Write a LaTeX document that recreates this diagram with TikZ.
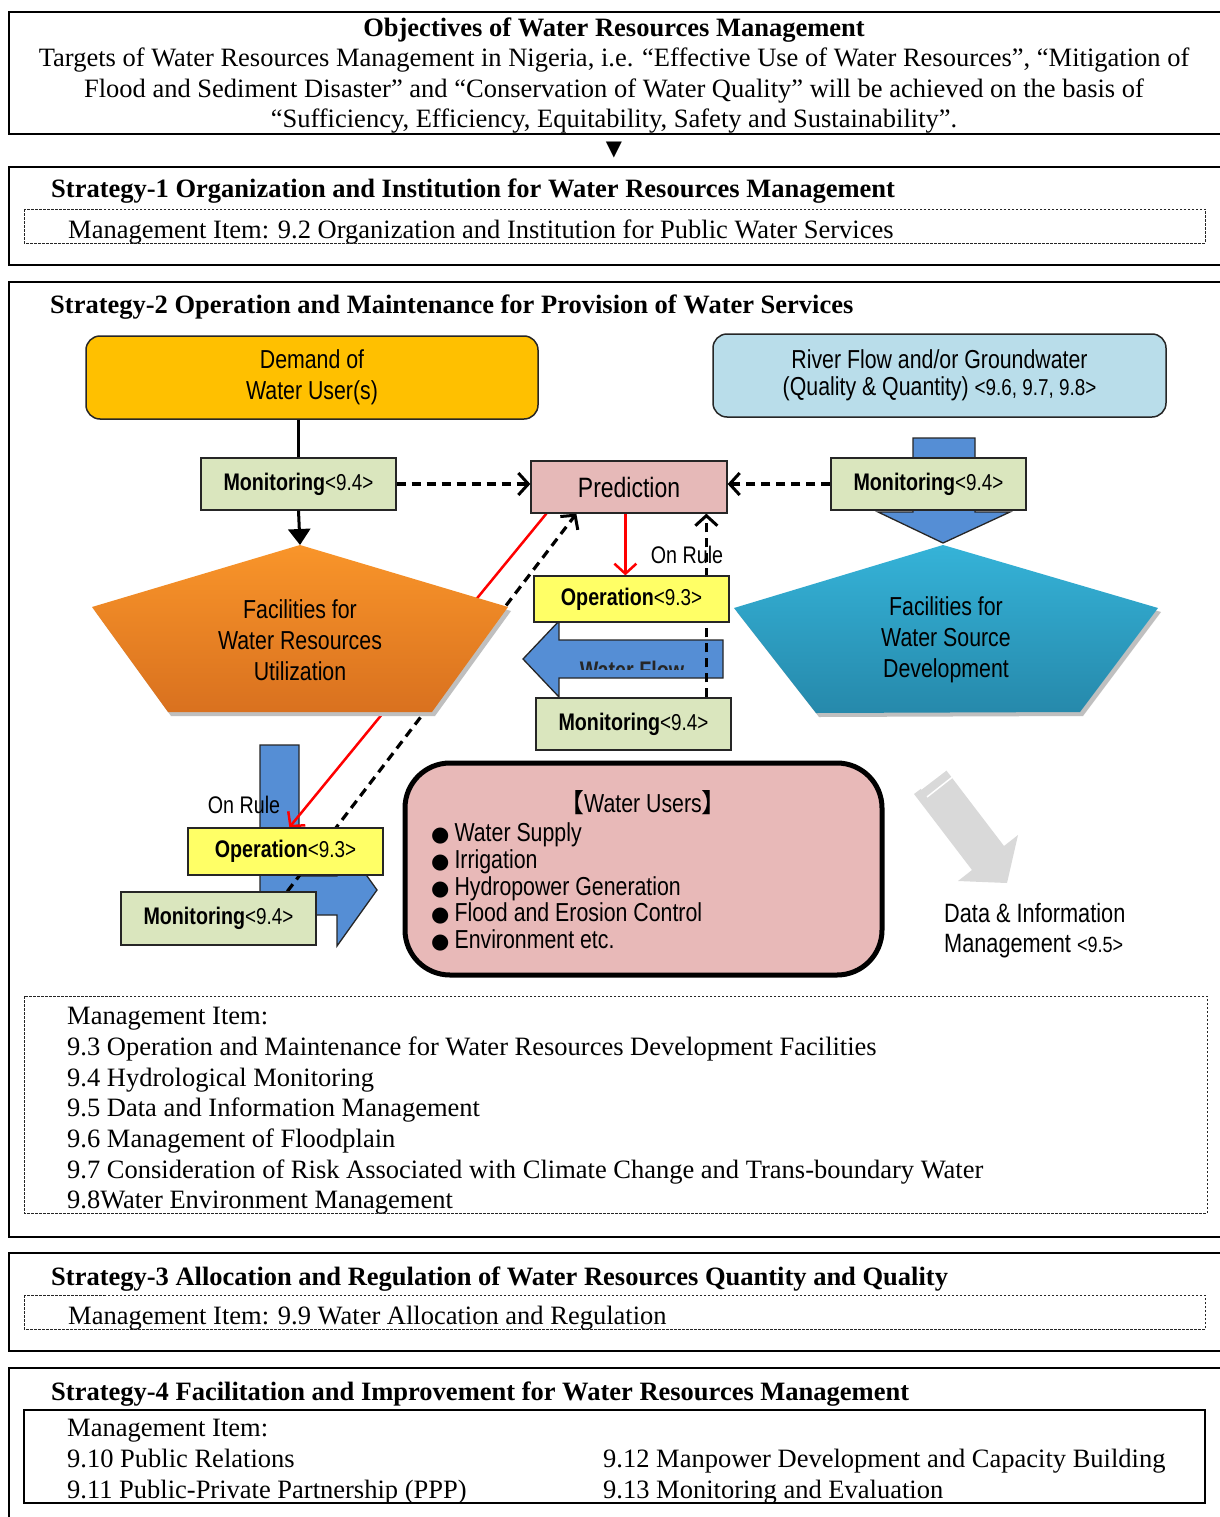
\documentclass[tikz,border=0pt]{standalone}
\usepackage{fontspec}
\setmainfont{Liberation Serif}
\newfontfamily\nar[FakeStretch=0.82]{Liberation Sans}
\newfontfamily\djv{DejaVu Sans}
\newfontfamily\cjk{Noto Sans CJK SC}
\usetikzlibrary{arrows.meta}
\definecolor{goldc}{HTML}{FFC000}
\definecolor{riverc}{HTML}{B9DDEA}
\definecolor{monc}{HTML}{DAE6BE}
\definecolor{predc}{HTML}{E6B9B8}
\definecolor{opc}{HTML}{FFFF66}
\definecolor{bluea}{HTML}{558ED5}
\definecolor{usersc}{HTML}{E8B9B8}
\definecolor{grayar}{HTML}{D9D9D9}
\definecolor{orT}{HTML}{F9952A}
\definecolor{orB}{HTML}{D9711F}
\definecolor{blT}{HTML}{35B3D8}
\definecolor{blB}{HTML}{2689AB}
\pgfdeclarelayer{paper}
\pgfdeclarelayer{arrowbg}
\pgfdeclarelayer{lines}
\pgfsetlayers{paper,arrowbg,lines,main}
\tikzset{
  outer/.style={draw=black, line width=2.3pt},
  dotbox/.style={draw=black!85, line width=0.9pt, dash pattern=on 2.5pt off 1.5pt},
  ser/.style={anchor=base west, inner sep=0pt, font=\fontsize{26.5}{31}\selectfont},
  serc/.style={anchor=base, inner sep=0pt, font=\fontsize{26.5}{31}\selectfont},
  serb/.style={anchor=base west, inner sep=0pt, font=\fontsize{26.5}{31}\selectfont\bfseries},
  dtxt/.style={inner sep=0pt, align=center, font=\fontsize{26}{31}\selectfont\nar},
  boxbase/.style={draw=black!85, line width=1.3pt, inner sep=0pt, minimum width=195pt},
  monbox/.style={boxbase, fill=monc, minimum height=52pt, font=\fontsize{24}{28}\selectfont\nar},
  opbox/.style={boxbase, fill=opc, minimum height=47pt, font=\fontsize{24}{28}\selectfont\nar},
  predbox/.style={boxbase, fill=predc, minimum width=196pt, minimum height=52pt, font=\fontsize{28}{32}\selectfont\nar},
  topbox/.style={draw=black!85, line width=1.5pt, rounded corners=14pt, inner sep=0pt, minimum width=452pt, minimum height=83pt, align=center},
  dline/.style={line width=3.2pt, dash pattern=on 9pt off 6pt},
  barb/.style={-{Straight Barb[length=10pt,width=22pt,line width=3pt]}},
  bluear/.style={fill=bluea, draw=black!85, line width=1.3pt},
}
\newcommand{\sm}[1]{{\fontsize{23}{26}\selectfont #1}}
\begin{document}
\begin{tikzpicture}[x=1pt,y=-1pt]
\useasboundingbox (0,0) rectangle (1219,1517);
\begin{pgfonlayer}{paper}
\fill[white] (0,0) rectangle (1219,1517);
\end{pgfonlayer}

% ---------- Objectives ----------
\draw[outer] (1240,12) -- (9,12) -- (9,134) -- (1240,134);
\node[serc, font=\fontsize{26.5}{31}\selectfont\bfseries] (objt) at (614,37) {Objectives of Water Resources Management};
\node[serc] (obj1) at (614,67) {Targets of Water Resources Management in Nigeria, i.e. “Effective Use of Water Resources”, “Mitigation of};
\node[serc] (obj2) at (614,98) {Flood and Sediment Disaster” and “Conservation of Water Quality” will be achieved on the basis of};
\node[serc] (obj3) at (614,128) {“Sufficiency, Efficiency, Equitability, Safety and Sustainability”.};
\node[inner sep=0pt, font=\djv\fontsize{21}{21}\selectfont] (tri) at (614,150) {▼};

% ---------- Strategy-1 ----------
\draw[outer] (1240,167) -- (9,167) -- (9,265) -- (1240,265);
\node[serb] (s1t) at (51,197) {Strategy-1 Organization and Institution for Water Resources Management};
\draw[dotbox] (24,209) rectangle (1205,243);
\node[ser] (s1i) at (68,238) {Management Item: 9.2 Organization and Institution for Public Water Services};

% ---------- Strategy-2 ----------
\draw[outer] (1240,282) -- (9,282) -- (9,1237) -- (1240,1237);
\node[serb] (s2t) at (50,313) {Strategy-2 Operation and Maintenance for Provision of Water Services};
\draw[dotbox] (24,996) rectangle (1207,1213);
\node[ser] (m0) at (67,1024) {Management Item:};
\node[ser] (m3) at (67,1055) {9.3 Operation and Maintenance for Water Resources Development Facilities};
\node[ser] (m4) at (67,1086) {9.4 Hydrological Monitoring};
\node[ser] (m5) at (67,1116) {9.5 Data and Information Management};
\node[ser] (m6) at (67,1147) {9.6 Management of Floodplain};
\node[ser] (m7) at (67,1178) {9.7 Consideration of Risk Associated with Climate Change and Trans-boundary Water};
\node[ser] (m8) at (67,1208) {9.8Water Environment Management};

% ---------- Strategy-3 ----------
\draw[outer] (1240,1253) -- (9,1253) -- (9,1351) -- (1240,1351);
\node[serb] (s3t) at (51,1285) {Strategy-3 Allocation and Regulation of Water Resources Quantity and Quality};
\draw[dotbox] (24,1295) rectangle (1205,1329);
\node[ser] (s3i) at (68,1324) {Management Item: 9.9 Water Allocation and Regulation};

% ---------- Strategy-4 ----------
\draw[outer] (1240,1368) -- (9,1368) -- (9,1540);
\node[serb] (s4t) at (51,1400) {Strategy-4 Facilitation and Improvement for Water Resources Management};
\draw[line width=2pt] (24,1410) rectangle (1205,1503);
\node[ser] (n0) at (67,1436) {Management Item:};
\node[ser] (n10) at (67,1467) {9.10 Public Relations};
\node[ser] (n11) at (67,1498) {9.11 Public-Private Partnership (PPP)};
\node[ser] (n12) at (603,1467) {9.12 Manpower Development and Capacity Building};
\node[ser] (n13) at (603,1498) {9.13 Monitoring and Evaluation};

% ---------- background blue arrows ----------
\begin{pgfonlayer}{arrowbg}
  \path[bluear] (913,438) -- (975,438) -- (975,512) -- (1010,512) -- (943,543) -- (878,512) -- (913,512) -- cycle;
  \path[bluear] (260,745) -- (299,745) -- (299,876) -- (337,876) -- (337,834) -- (377,890) -- (337,946) -- (337,915) -- (260,915) -- cycle;
  \path[bluear] (723,640) -- (723,678) -- (559,678) -- (559,697) -- (523,659) -- (559,621) -- (559,640) -- cycle;
  \begin{scope}
    \clip (559,640) rectangle (723,669);
    \node[anchor=base, inner sep=0pt, font=\fontsize{24}{28}\selectfont\nar\bfseries, text=black!85] (wflow) at (632,678) {Water Flow};
  \end{scope}
  \fill[grayar] (914,794) -- (946,770) -- (1004,846) -- (1018,835) -- (1007,883) -- (958,881) -- (972,870) -- cycle;
  \draw[white, line width=1.5pt] (921,789) -- (951,766);
  \draw[white, line width=1.5pt] (927,797) -- (955,775);
\end{pgfonlayer}

% ---------- pentagons ----------
\fill[black!25] (303,549) -- (511,611) -- (435,716) -- (171,716) -- (95,611) -- cycle;
\shade[top color=orT, bottom color=orB] (300,545) -- (508,607) -- (432,712) -- (168,712) -- (92,607) -- cycle;
\coordinate (pentLtop) at (300,545);
\node[dtxt] (pentLtxt) at (300,640) {Facilities for\\Water Resources\\Utilization};

\fill[black!25] (946,549) -- (1161,612) -- (1083,716) -- (819,717) -- (737,612) -- cycle;
\shade[top color=blT, bottom color=blB] (943,545) -- (1158,608) -- (1080,712) -- (816,713) -- (734,608) -- cycle;
\node[dtxt] (pentRtxt) at (946,640) {Facilities for\\Water Source\\Development};

% ---------- nodes ----------
\node[topbox, fill=goldc, dtxt, minimum width=452pt, minimum height=83pt] (demand) at (312,377.5) {Demand of\\Water User(s)};
\node[topbox, fill=riverc, minimum width=453pt, minimum height=83pt, font=\fontsize{26}{27}\selectfont\nar] (river) at (939.5,375.5) {River Flow and/or Groundwater\\(Quality \& Quantity) \sm{<9.6, 9.7, 9.8>}};

\node[monbox] (monL) at (298.5,484) {\textbf{Monitoring}\sm{<9.4>}};
\node[monbox] (monR) at (928.5,484) {\textbf{Monitoring}\sm{<9.4>}};
\node[predbox] (pred) at (629,487) {Prediction};
\node[opbox, minimum height=46pt] (opC) at (631.5,599) {\textbf{Operation}\sm{<9.3>}};
\node[monbox] (monC) at (633.5,724) {\textbf{Monitoring}\sm{<9.4>}};
\node[opbox] (opL) at (285.5,851.5) {\textbf{Operation}\sm{<9.3>}};
\node[monbox, minimum height=53pt] (monL2) at (218.5,918.5) {\textbf{Monitoring}\sm{<9.4>}};

\node[inner sep=0pt, font=\fontsize{24}{28}\selectfont\nar] (rule1) at (687,555) {On Rule};
\node[inner sep=0pt, font=\fontsize{24}{28}\selectfont\nar] (rule2) at (244,805) {On Rule};

\node[draw=black, line width=5pt, fill=usersc, rounded corners=45pt, minimum width=477pt, minimum height=212pt] (users) at (643.5,869) {};
\node[anchor=base, inner sep=0pt, font=\fontsize{26}{27}\selectfont\nar] (ut) at (643,812) {{\cjk 【}Water Users{\cjk 】}};
\node[anchor=base west, inner sep=0pt, font=\fontsize{26}{27}\selectfont\nar] (u1) at (431,841) {{\djv\fontsize{21}{21}\selectfont ●}\hspace{5pt}Water Supply};
\node[anchor=base west, inner sep=0pt, font=\fontsize{26}{27}\selectfont\nar] (u2) at (431,868) {{\djv\fontsize{21}{21}\selectfont ●}\hspace{5pt}Irrigation};
\node[anchor=base west, inner sep=0pt, font=\fontsize{26}{27}\selectfont\nar] (u3) at (431,895) {{\djv\fontsize{21}{21}\selectfont ●}\hspace{5pt}Hydropower Generation};
\node[anchor=base west, inner sep=0pt, font=\fontsize{26}{27}\selectfont\nar] (u4) at (431,921) {{\djv\fontsize{21}{21}\selectfont ●}\hspace{5pt}Flood and Erosion Control};
\node[anchor=base west, inner sep=0pt, font=\fontsize{26}{27}\selectfont\nar] (u5) at (431,948) {{\djv\fontsize{21}{21}\selectfont ●}\hspace{5pt}Environment etc.};

\node[anchor=base west, inner sep=0pt, font=\fontsize{26.5}{30}\selectfont\nar] (data1) at (944,922) {Data \& Information};
\node[anchor=base west, inner sep=0pt, font=\fontsize{26.5}{30}\selectfont\nar] (data2) at (944,952) {Management {\fontsize{22}{26}\selectfont <9.5>}};

% ---------- connectors ----------
\draw[line width=3pt] (demand.south -| monL.north) -- (monL.north);
\draw[line width=3pt, -{Triangle[length=16pt,width=22pt]}] (monL.south) -- (pentLtop);
\draw[dline, barb] (monL.east) -- (monL.east -| pred.west);
\draw[dline, barb] (monR.west) -- (monR.west -| pred.east);

\begin{pgfonlayer}{lines}
  \draw[red, line width=2.5pt, -{Straight Barb[length=10pt,width=22pt,line width=2.5pt]}] ([xshift=95pt]pred.south west) -- ([xshift=92pt]opC.north west);
  \draw[red, line width=2.5pt, -{Straight Barb[length=10pt,width=22pt,line width=2.5pt]}] ([xshift=16pt]pred.south west) -- ([xshift=102pt]opL.north west);
  \draw[dline, barb] ([xshift=167pt]monL2.north west) -- ([xshift=46pt]pred.south west);
  \draw[dline, barb] ([xshift=171pt]monC.north west) -- ([xshift=176pt]pred.south west);
\end{pgfonlayer}
\end{tikzpicture}
\end{document}
